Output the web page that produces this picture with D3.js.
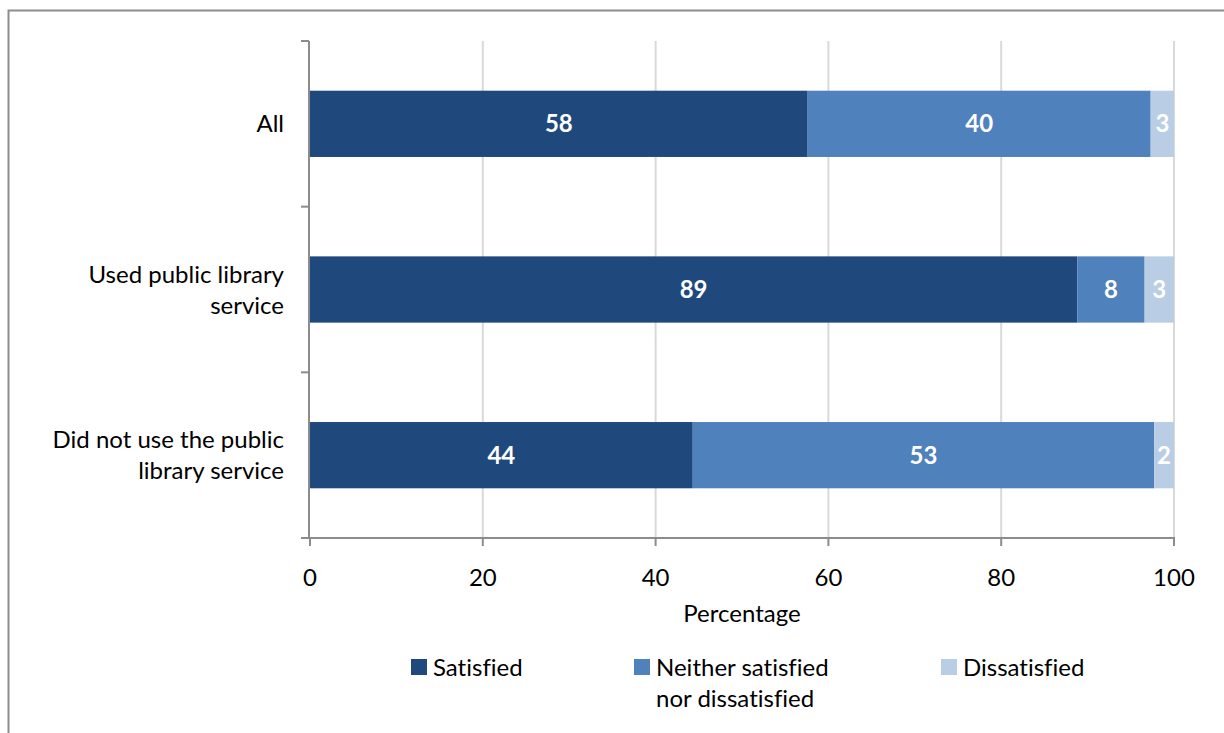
<!DOCTYPE html>
<html>
<head>
<meta charset="utf-8">
<script src="https://cdn.jsdelivr.net/npm/d3@7"></script>
<style>
  html, body { margin: 0; padding: 0; background: #fff; }
  svg { display: block; font-family: Lato, "Open Sans", sans-serif; font-variant-ligatures: none; }
</style>
</head>
<body>
<svg id="chart" width="1224" height="733"></svg>
<script>
// Satisfaction with the public library service, by use of the service (%)
const categories = [
  ["All"],
  ["Used public library", "service"],
  ["Did not use the public", "library service"]
];
const seriesNames = ["Satisfied", ["Neither satisfied", "nor dissatisfied"], "Dissatisfied"];
const satisfied = [57.6, 88.8, 44.3];
const neither = [39.7, 7.8, 53.4];
const dissatisfied = [2.7, 3.4, 2.3];
const xTicks = [0, 20, 40, 60, 80, 100];

const colors = ["#1f497d", "#4f81bd", "#b9cde5"];
const fontSize = 24;

const svg = d3.select("#chart");
const W = 1224, H = 733;

// outer frame
svg.append("rect")
  .attr("x", 8.5).attr("y", 10.5)
  .attr("width", W).attr("height", H)
  .attr("fill", "none").attr("stroke", "#8c8c8c").attr("stroke-width", 2);

const plot = { left: 310, right: 1174, top: 41, bottom: 538 };

const x = d3.scaleLinear().domain([0, 100]).range([plot.left, plot.right]);
const y = d3.scaleBand()
  .domain(d3.range(categories.length))
  .range([plot.top, plot.bottom])
  .paddingInner(0.6).paddingOuter(0.3);
const yEdge = d3.scaleLinear().domain([0, categories.length]).range([plot.top, plot.bottom]);

// gridlines
svg.append("g").selectAll("line")
  .data(xTicks.filter(t => t > 0))
  .join("line")
  .attr("x1", d => x(d)).attr("x2", d => x(d))
  .attr("y1", plot.top).attr("y2", plot.bottom)
  .attr("stroke", "#d9d9d9").attr("stroke-width", 2);

// stacked bars
const rows = categories.map((c, i) => [satisfied[i], neither[i], dissatisfied[i]]);
const stack = d3.stack().keys([0, 1, 2]);
const layers = stack(rows);

const gBars = svg.append("g");
layers.forEach((layer, k) => {
  const g = gBars.append("g");
  g.selectAll("rect")
    .data(layer)
    .join("rect")
    .attr("x", d => x(d[0]))
    .attr("width", d => x(d[1]) - x(d[0]))
    .attr("y", (d, i) => y(i))
    .attr("height", y.bandwidth())
    .attr("fill", colors[k]);
  g.selectAll("text")
    .data(layer)
    .join("text")
    .attr("x", d => (x(d[0]) + x(d[1])) / 2)
    .attr("y", (d, i) => y(i) + y.bandwidth() / 2)
    .attr("dy", "0.36em")
    .attr("text-anchor", "middle")
    .attr("fill", "#fff")
    .attr("font-weight", "bold")
    .attr("font-size", fontSize)
    .text(d => d3.format(".0f")(d[1] - d[0]));
});

// axes lines
const axisColor = "#8c8c8c";
svg.append("line")
  .attr("x1", plot.left - 1).attr("x2", plot.left - 1)
  .attr("y1", plot.top).attr("y2", plot.bottom + 1)
  .attr("stroke", axisColor).attr("stroke-width", 2);
svg.append("line")
  .attr("x1", plot.left - 9).attr("x2", plot.right + 1)
  .attr("y1", plot.bottom).attr("y2", plot.bottom)
  .attr("stroke", axisColor).attr("stroke-width", 2);

// y tick marks at band edges
svg.append("g").selectAll("line")
  .data(d3.range(categories.length + 1))
  .join("line")
  .attr("x1", plot.left - 9).attr("x2", plot.left - 1)
  .attr("y1", d => yEdge(d)).attr("y2", d => yEdge(d))
  .attr("stroke", axisColor).attr("stroke-width", 2);

// x tick marks and labels
const gx = svg.append("g");
gx.selectAll("line")
  .data(xTicks)
  .join("line")
  .attr("x1", d => x(d)).attr("x2", d => x(d))
  .attr("y1", plot.bottom).attr("y2", plot.bottom + 8)
  .attr("stroke", axisColor).attr("stroke-width", 2);
gx.selectAll("text")
  .data(xTicks)
  .join("text")
  .attr("x", d => x(d))
  .attr("y", 577)
  .attr("dy", "0.36em")
  .attr("text-anchor", "middle")
  .attr("font-size", fontSize)
  .attr("fill", "#000")
  .text(d => d);

// axis title
svg.append("text")
  .attr("x", (plot.left + plot.right) / 2)
  .attr("y", 613)
  .attr("dy", "0.36em")
  .attr("text-anchor", "middle")
  .attr("font-size", fontSize)
  .attr("fill", "#000")
  .text("Percentage");

// category labels
const lineH = 31;
svg.append("g").selectAll("text")
  .data(categories)
  .join("text")
  .attr("text-anchor", "end")
  .attr("font-size", fontSize)
  .attr("fill", "#000")
  .each(function (lines, i) {
    const cy = y(i) + y.bandwidth() / 2;
    const y0 = cy - (lines.length - 1) * lineH / 2;
    d3.select(this).selectAll("tspan")
      .data(lines)
      .join("tspan")
      .attr("x", 284)
      .attr("y", (d, j) => y0 + j * lineH)
      .attr("dy", "0.36em")
      .text(d => d);
  });

// legend
const legendX = [411, 634, 941];
const legend = svg.append("g");
seriesNames.forEach((name, k) => {
  const lines = Array.isArray(name) ? name : [name];
  legend.append("rect")
    .attr("x", legendX[k]).attr("y", 659)
    .attr("width", 16).attr("height", 16)
    .attr("fill", colors[k]);
  const t = legend.append("text")
    .attr("font-size", fontSize)
    .attr("fill", "#000");
  t.selectAll("tspan")
    .data(lines)
    .join("tspan")
    .attr("x", legendX[k] + 22)
    .attr("y", (d, j) => 667 + j * 31)
    .attr("dy", "0.36em")
    .text(d => d);
});
</script>
</body>
</html>
